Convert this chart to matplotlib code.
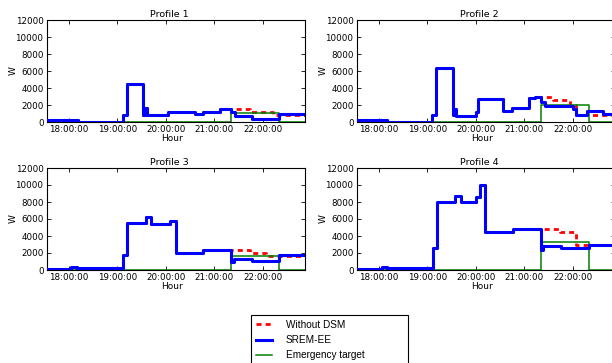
# Household load profiles with and without demand-side management

import matplotlib
matplotlib.use("Agg")
import matplotlib.pyplot as plt
from matplotlib.ticker import FuncFormatter
from matplotlib.lines import Line2D

# time axis (decimal hours) and emergency window
t_start, t_end = 17.55, 22.87
dr_start, dr_end = 21.35, 22.34

profile_names = ["Profile 1", "Profile 2", "Profile 3", "Profile 4"]
hour_ticks = [18, 19, 20, 21, 22]
w_ticks = [0, 2000, 4000, 6000, 8000, 10000, 12000]

# SREM-EE consumption, step changes (hour, watts)
srem_t1 = [17.55, 18.18, 19.12, 19.19, 19.53, 19.58, 19.62, 20.05, 20.60, 20.77, 21.11, 21.35, 21.42, 21.78, 22.34]
srem_w1 = [200, 20, 800, 4500, 800, 1600, 800, 1200, 900, 1200, 1500, 1200, 700, 400, 900]

srem_t2 = [17.55, 18.16, 19.09, 19.18, 19.52, 19.56, 19.60, 20.01, 20.05, 20.56, 20.75, 21.10, 21.22, 21.35, 21.42, 22.00, 22.07, 22.29, 22.63]
srem_w2 = [200, 20, 800, 6300, 800, 1500, 750, 1200, 2700, 1300, 1600, 2800, 3000, 2300, 1900, 1500, 800, 1250, 900]

srem_t3 = [17.55, 18.05, 18.17, 18.20, 19.11, 19.20, 19.60, 19.70, 20.08, 20.20, 20.77, 21.35, 21.40, 21.78, 22.34]
srem_w3 = [150, 300, 0, 250, 1800, 5500, 6200, 5400, 5800, 2050, 2300, 900, 1350, 1100, 1800]

srem_t4 = [17.55, 18.06, 18.17, 18.20, 19.11, 19.19, 19.57, 19.69, 20.01, 20.08, 20.19, 20.76, 21.35, 21.39, 21.75, 22.34]
srem_w4 = [150, 300, 0, 250, 2600, 8000, 8700, 8000, 8600, 10000, 4450, 4800, 2400, 2850, 2600, 3000]

# load without DSM once the emergency window opens (same as SREM-EE before it)
base_t1 = [21.35, 21.73, 22.20]
base_w1 = [1500, 1200, 800]

base_t2 = [21.35, 21.59, 21.94, 22.07]
base_w2 = [3000, 2600, 2050, 800]

base_t3 = [21.35, 21.73, 22.07]
base_w3 = [2300, 2000, 1700]

base_t4 = [21.35, 21.73, 22.06]
base_w4 = [4800, 4450, 2950]

# emergency target level per profile
target_w = [1050, 2000, 1600, 3300]

srem_t = [srem_t1, srem_t2, srem_t3, srem_t4]
srem_w = [srem_w1, srem_w2, srem_w3, srem_w4]
base_t = [base_t1, base_t2, base_t3, base_t4]
base_w = [base_w1, base_w2, base_w3, base_w4]

# axes boxes in pixels: left, top (612x363 canvas)
FIG_W, FIG_H = 612, 363
AX_W, AX_H = 258, 102
boxes = [(47, 20), (357, 20), (47, 168), (357, 168)]


def steps(ts, ws):
    """Close a step series at the right edge of the time axis."""
    return list(ts) + [t_end], list(ws) + [ws[-1]]


def without_dsm(i):
    ts = [t for t in srem_t[i] if t < dr_start] + base_t[i]
    ws = [w for t, w in zip(srem_t[i], srem_w[i]) if t < dr_start] + base_w[i]
    return steps(ts, ws)


def draw_profile(ax, i):
    bt, bw = without_dsm(i)
    ax.plot(bt, bw, drawstyle="steps-post", color="red", lw=2.0,
            dashes=(1.8, 1.5), zorder=2)
    st, sw = steps(srem_t[i], srem_w[i])
    ax.plot(st, sw, drawstyle="steps-post", color="blue", lw=2.2, zorder=3)
    gt, gw = steps([t_start, dr_start, dr_end], [0, target_w[i], 0])
    ax.plot(gt, gw, drawstyle="steps-post", color="green", lw=1.1, zorder=2.2)

    ax.set_xlim(t_start, t_end)
    ax.set_ylim(0, 12000)
    ax.set_xticks(hour_ticks)
    ax.xaxis.set_major_formatter(FuncFormatter(lambda h, p: "%02d:00:00" % int(round(h))))
    ax.set_yticks(w_ticks)
    ax.tick_params(direction="in", top=True, right=True, length=3, width=0.6,
                   labelsize=6.3, pad=2.5)
    for s in ax.spines.values():
        s.set_linewidth(0.8)
    ax.set_title(profile_names[i], fontsize=6.8, x=0.475, pad=2)
    ax.set_xlabel("Hour", fontsize=6.5, labelpad=0, x=0.485)
    ax.set_ylabel("W", fontsize=6.5, labelpad=-1.5)


def main():
    plt.rcParams["font.family"] = "DejaVu Sans"
    fig = plt.figure(figsize=(FIG_W / 100, FIG_H / 100), dpi=100)

    for i, (left, top) in enumerate(boxes):
        ax = fig.add_axes([left / FIG_W, 1 - (top + AX_H) / FIG_H,
                           AX_W / FIG_W, AX_H / FIG_H])
        draw_profile(ax, i)

    handles = [
        Line2D([], [], color="red", lw=2.0, dashes=(1.8, 1.5)),
        Line2D([], [], color="blue", lw=2.2),
        Line2D([], [], color="green", lw=1.1),
    ]
    labels = ["Without DSM", "SREM-EE", "Emergency target"]
    # legend box spans a fixed width under the panels
    leg_box = (251 / FIG_W, 0, 157 / FIG_W, 1 - 315 / FIG_H)
    leg = fig.legend(handles, labels, loc="upper left", mode="expand",
                     bbox_to_anchor=leg_box,
                     prop={"family": "Liberation Sans", "size": 7.2},
                     frameon=True, fancybox=False, framealpha=1,
                     edgecolor="black", handlelength=1.6, handletextpad=1.4,
                     labelspacing=0.55, borderpad=0.45, borderaxespad=0)
    leg.get_frame().set_linewidth(0.8)

    fig.savefig("out.png", dpi=100)


if __name__ == "__main__":
    main()
